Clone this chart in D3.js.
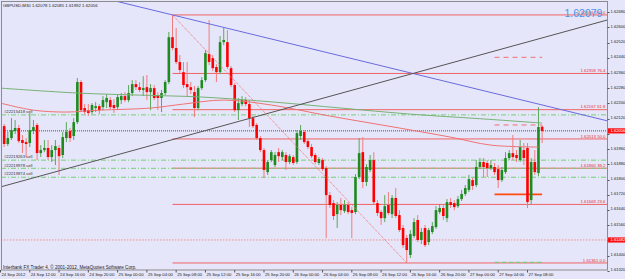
<!DOCTYPE html>
<html>

<head>
  <meta charset="utf-8">
  <title>GBPUSD,M30</title>
  <style>
    body { margin: 0; background: #e6e6fa; }
    svg { display: block; font-family: "Liberation Sans", Arial, sans-serif; }
  </style>
</head>

<body>
  <svg id="svg"></svg>

  <script src="https://d3js.org/d3.v7.min.js"></script>
  <script>
    // ---- data (GBPUSD M30, bar 0 = 24 Sep 2012 08:00) ----
    let opens = [
      1.62207, 1.62081, 1.61987, 1.62018, 1.62055, 1.62071, 1.62008, 1.61997, 1.61992, 1.62055,
      1.62087, 1.61939, 1.61955, 1.61966, 1.61918, 1.61955, 1.61966, 1.61929, 1.62018, 1.62055,
      1.62029, 1.62102, 1.62313, 1.62176, 1.62165, 1.62155, 1.62176, 1.62186, 1.62181, 1.62207,
      1.62218, 1.62192, 1.62181, 1.62218, 1.62239, 1.62218, 1.62255, 1.62302, 1.62286, 1.62271,
      1.62286, 1.62260, 1.62281, 1.62244, 1.62229, 1.62255, 1.62313, 1.62549, 1.62492, 1.62418,
      1.62365, 1.62302, 1.62286, 1.62260, 1.62176, 1.62281, 1.62323, 1.62460, 1.62439, 1.62392,
      1.62365, 1.62523, 1.62523, 1.62386, 1.62297, 1.62165, 1.62197, 1.62218, 1.62197, 1.62123,
      1.62087, 1.62018, 1.61955, 1.61839, 1.61902, 1.61876, 1.61944, 1.61918, 1.61929, 1.61892,
      1.61918, 1.61892, 1.62029, 1.62050, 1.62002, 1.61971, 1.61929, 1.61887, 1.61902, 1.61860,
      1.61718, 1.61676, 1.61618, 1.61666, 1.61634, 1.61666, 1.61639, 1.61629, 1.61813, 1.61944,
      1.61787, 1.61850, 1.61902, 1.61676, 1.61629, 1.61597, 1.61666, 1.61618, 1.61703, 1.61613,
      1.61545, 1.61492, 1.61403, 1.61503, 1.61587, 1.61482, 1.61545, 1.61471, 1.61524, 1.61550,
      1.61629, 1.61650, 1.61597, 1.61681, 1.61676, 1.61660, 1.61697, 1.61724, 1.61745, 1.61797,
      1.61771, 1.61866, 1.61892, 1.61887, 1.61860, 1.61866, 1.61855, 1.61797, 1.61839, 1.61913,
      1.61939, 1.61929, 1.61902, 1.61955, 1.61966, 1.61692, 1.61892, 1.61834, 1.62078
    ];
    let highs = [
      1.62223, 1.62092, 1.62050, 1.62123, 1.62113, 1.62087, 1.62034, 1.62018, 1.62150, 1.62113,
      1.62097, 1.61981, 1.62008, 1.62008, 1.61981, 1.62008, 1.61981, 1.62050, 1.62102, 1.62071,
      1.62123, 1.62334, 1.62323, 1.62197, 1.62197, 1.62202, 1.62207, 1.62197, 1.62239, 1.62250,
      1.62234, 1.62223, 1.62250, 1.62255, 1.62260, 1.62297, 1.62323, 1.62323, 1.62313, 1.62344,
      1.62350, 1.62302, 1.62297, 1.62260, 1.62271, 1.62323, 1.62576, 1.62666, 1.62597, 1.62455,
      1.62418, 1.62418, 1.62313, 1.62292, 1.62292, 1.62339, 1.62481, 1.62639, 1.62455, 1.62407,
      1.62555, 1.62597, 1.62586, 1.62397, 1.62307, 1.62229, 1.62239, 1.62234, 1.62218, 1.62134,
      1.62097, 1.62029, 1.61966, 1.61902, 1.61955, 1.61944, 1.61966, 1.61955, 1.61944, 1.61934,
      1.61929, 1.62060, 1.62087, 1.62060, 1.62013, 1.61987, 1.61939, 1.61918, 1.61913, 1.61871,
      1.61734, 1.61692, 1.61681, 1.61703, 1.61692, 1.61681, 1.61655, 1.61829, 1.62018, 1.62023,
      1.61881, 1.61929, 1.61944, 1.61692, 1.61639, 1.61718, 1.61734, 1.61718, 1.61755, 1.61639,
      1.61561, 1.61508, 1.61534, 1.61597, 1.61613, 1.61545, 1.61561, 1.61545, 1.61576, 1.61660,
      1.61671, 1.61671, 1.61697, 1.61703, 1.61692, 1.61713, 1.61745, 1.61771, 1.61824, 1.61808,
      1.61902, 1.61913, 1.61913, 1.61902, 1.61902, 1.61887, 1.61876, 1.61866, 1.61944, 1.61955,
      1.62034, 1.61955, 1.62008, 1.61992, 1.61992, 1.61913, 1.61955, 1.62181, 1.62085
    ];
    let lows = [
      1.62071, 1.61971, 1.61976, 1.62008, 1.62039, 1.61992, 1.61939, 1.61918, 1.61971, 1.62039,
      1.61902, 1.61918, 1.61944, 1.61902, 1.61892, 1.61876, 1.61824, 1.61913, 1.61997, 1.61997,
      1.62008, 1.62092, 1.62155, 1.62144, 1.62134, 1.62144, 1.62155, 1.62144, 1.62165, 1.62176,
      1.62171, 1.62150, 1.62165, 1.62197, 1.62207, 1.62207, 1.62239, 1.62271, 1.62260, 1.62239,
      1.62218, 1.62165, 1.62218, 1.62165, 1.62155, 1.62244, 1.62302, 1.62481, 1.62407, 1.62360,
      1.62281, 1.62234, 1.62250, 1.62129, 1.62165, 1.62271, 1.62313, 1.62402, 1.62371, 1.62313,
      1.62355, 1.62507, 1.62381, 1.62286, 1.62155, 1.62113, 1.62186, 1.62186, 1.62076, 1.62071,
      1.62008, 1.61944, 1.61808, 1.61824, 1.61892, 1.61866, 1.61892, 1.61902, 1.61850, 1.61881,
      1.61876, 1.61881, 1.62008, 1.61987, 1.61960, 1.61913, 1.61881, 1.61876, 1.61845, 1.61492,
      1.61650, 1.61587, 1.61545, 1.61613, 1.61624, 1.61618, 1.61492, 1.61618, 1.61802, 1.61755,
      1.61766, 1.61839, 1.61671, 1.61608, 1.61561, 1.61576, 1.61613, 1.61597, 1.61597, 1.61524,
      1.61440, 1.61361, 1.61387, 1.61492, 1.61471, 1.61461, 1.61445, 1.61455, 1.61513, 1.61540,
      1.61618, 1.61587, 1.61576, 1.61650, 1.61639, 1.61650, 1.61687, 1.61713, 1.61734, 1.61745,
      1.61760, 1.61855, 1.61813, 1.61813, 1.61850, 1.61824, 1.61755, 1.61787, 1.61829, 1.61902,
      1.61902, 1.61892, 1.61892, 1.61876, 1.61650, 1.61671, 1.61824, 1.61818, 1.61992
    ];
    let closes = [
      1.62081, 1.61987, 1.62018, 1.62060, 1.62071, 1.62002, 1.61992, 1.61987, 1.62060, 1.62076,
      1.61939, 1.61955, 1.61966, 1.61918, 1.61955, 1.61976, 1.61923, 1.62023, 1.62050, 1.62018,
      1.62102, 1.62313, 1.62165, 1.62155, 1.62150, 1.62192, 1.62186, 1.62165, 1.62218, 1.62229,
      1.62181, 1.62176, 1.62234, 1.62239, 1.62218, 1.62255, 1.62302, 1.62286, 1.62271, 1.62281,
      1.62260, 1.62281, 1.62229, 1.62229, 1.62255, 1.62313, 1.62549, 1.62492, 1.62418, 1.62376,
      1.62297, 1.62286, 1.62271, 1.62176, 1.62281, 1.62323, 1.62465, 1.62418, 1.62386, 1.62365,
      1.62523, 1.62534, 1.62392, 1.62297, 1.62165, 1.62202, 1.62218, 1.62197, 1.62123, 1.62081,
      1.62018, 1.61955, 1.61850, 1.61892, 1.61944, 1.61929, 1.61923, 1.61944, 1.61892, 1.61923,
      1.61887, 1.62044, 1.62055, 1.61997, 1.61971, 1.61923, 1.61892, 1.61908, 1.61855, 1.61718,
      1.61666, 1.61608, 1.61666, 1.61639, 1.61666, 1.61629, 1.61624, 1.61813, 1.61939, 1.61787,
      1.61866, 1.61902, 1.61681, 1.61624, 1.61597, 1.61660, 1.61624, 1.61703, 1.61608, 1.61534,
      1.61455, 1.61429, 1.61513, 1.61576, 1.61482, 1.61524, 1.61455, 1.61534, 1.61555, 1.61639,
      1.61650, 1.61608, 1.61681, 1.61666, 1.61655, 1.61697, 1.61724, 1.61755, 1.61802, 1.61766,
      1.61866, 1.61892, 1.61866, 1.61860, 1.61876, 1.61839, 1.61797, 1.61850, 1.61913, 1.61939,
      1.61918, 1.61913, 1.61971, 1.61913, 1.61681, 1.61892, 1.61839, 1.62076, 1.62056
    ];

    // moving averages, sampled as [bar, price]
    let maGreen = [[0, 1.62281], [21, 1.62255], [38, 1.62244], [55, 1.62234], [75, 1.62207],
      [93, 1.62176], [112, 1.62144], [131, 1.62120], [148, 1.62097]];
    let maRed = [[0, 1.62202], [9, 1.62165], [18, 1.62155], [27, 1.62165], [41, 1.62176], [50, 1.62197],
      [61, 1.62218], [74, 1.62192], [90, 1.62134], [109, 1.62071], [123, 1.62023], [134, 1.61981], [147, 1.61971]];

    // trend lines, two anchors [bar, price]
    let blueLine = [[47, 1.62666], [147, 1.62197]];
    let blackLine = [[0, 1.61761], [148, 1.62545]];

    // fibonacci retracement
    let fibHigh = [47, 1.62666];
    let fibLow = [111, 1.61361];
    let fibLevels = [0, 23.6, 38.2, 50, 61.8, 76.4, 100];

    // open orders
    let orderTickets = ["#22215418", "#22219263", "#22219978", "#22219874"];
    let orderPrices = [1.62140, 1.61902, 1.61859, 1.61812];

    // short level segments at the right
    let levelPrices = [1.62443, 1.62087, 1.61722, 1.61364];
    let levelBars = [135, 148];

    let bidPrice = 1.62056;
    let markPrice = 1.61482;
    let askText = "1.62079";
    let titleText = "GBPUSD,M30  1.62078 1.62085 1.61992 1.62056";
    let footerText = "Interbank FX Trader 4, \u00a9 2001-2012, MetaQuotes Software Corp.";

    let priceTicks = [1.62680, 1.62600, 1.62520, 1.62440, 1.62360, 1.62280, 1.62200, 1.62120, 1.62040,
      1.61960, 1.61880, 1.61800, 1.61720, 1.61640, 1.61560, 1.61480, 1.61400, 1.61320];
    let timeTickBars = [0, 8, 16, 24, 32, 40, 48, 56, 64, 72, 80, 88, 96, 104, 112, 120, 128, 136, 144];
    let timeLabels = ["24 Sep 2012", "24 Sep 12:00", "24 Sep 16:00", "24 Sep 20:00", "25 Sep 00:00",
      "25 Sep 04:00", "25 Sep 08:00", "25 Sep 12:00", "25 Sep 16:00", "25 Sep 20:00", "26 Sep 00:00",
      "26 Sep 04:00", "26 Sep 08:00", "26 Sep 12:00", "26 Sep 16:00", "26 Sep 20:00", "27 Sep 00:00",
      "27 Sep 04:00", "27 Sep 08:00"];

    // ---- drawing ----
    let width = 625, height = 279;
    let plot = { left: 1, top: 2, right: 607, bottom: 270 };

    let svg = d3.select("#svg").attr("width", width).attr("height", height);
    svg.append("rect").attr("width", width).attr("height", height).attr("fill", "#e6e6fa");

    let x = d3.scaleLinear().domain([0, 166]).range([0.5, 608]);
    let y = d3.scaleLinear().domain([1.61324, 1.62734]).range([plot.bottom, plot.top]);

    svg.append("clipPath").attr("id", "clip")
      .append("rect")
      .attr("x", plot.left).attr("y", plot.top)
      .attr("width", plot.right - plot.left).attr("height", plot.bottom - plot.top);

    let chart = svg.append("g").attr("clip-path", "url(#clip)");

    // line through two anchors, stretched over the whole plot width
    function ray(anchors) {
      let [a, b] = anchors;
      let x1 = x(a[0]), y1 = y(a[1]), x2 = x(b[0]), y2 = y(b[1]);
      let k = (y2 - y1) / (x2 - x1);
      return [[plot.left, y1 + k * (plot.left - x1)], [plot.right, y1 + k * (plot.right - x1)]];
    }

    // fibo levels
    let fibPrice = r => fibLow[1] + r / 100 * (fibHigh[1] - fibLow[1]);
    chart.selectAll("line.fib").data(fibLevels).join("line")
      .attr("class", "fib")
      .attr("x1", x(fibHigh[0])).attr("x2", plot.right)
      .attr("y1", r => y(fibPrice(r))).attr("y2", r => y(fibPrice(r)))
      .attr("stroke", "#f06464").attr("stroke-width", 1);

    // order lines
    chart.selectAll("line.order").data(orderPrices).join("line")
      .attr("class", "order")
      .attr("x1", plot.left).attr("x2", plot.right)
      .attr("y1", d => y(d)).attr("y2", d => y(d))
      .attr("stroke", "#74d074").attr("stroke-width", 1)
      .attr("stroke-dasharray", "5,2,1,2");

    // bid line and the other dotted line
    chart.append("line")
      .attr("x1", plot.left).attr("x2", plot.right)
      .attr("y1", y(bidPrice)).attr("y2", y(bidPrice))
      .attr("stroke", "#7a3c3c").attr("stroke-dasharray", "1,1");
    chart.append("line")
      .attr("x1", plot.left).attr("x2", plot.right)
      .attr("y1", y(markPrice)).attr("y2", y(markPrice))
      .attr("stroke", "#f08c8c").attr("stroke-dasharray", "1.5,1.5");

    // short level segments
    let levelStyle = [
      { stroke: "#f07070", dash: "5,4", w: 1 },
      { stroke: "#f07070", dash: "5,4", w: 1 },
      { stroke: "#ff4a10", dash: null, w: 1.6 },
      { stroke: "#7cc87c", dash: "5,2", w: 1.2 }
    ];
    chart.selectAll("line.level").data(levelPrices).join("line")
      .attr("class", "level")
      .attr("x1", x(levelBars[0])).attr("x2", x(levelBars[1]))
      .attr("y1", d => y(d)).attr("y2", d => y(d))
      .attr("stroke", (d, i) => levelStyle[i].stroke)
      .attr("stroke-width", (d, i) => levelStyle[i].w)
      .attr("stroke-dasharray", (d, i) => levelStyle[i].dash);

    // candles
    let bars = d3.range(opens.length);
    let isUp = i => closes[i] >= opens[i];
    chart.selectAll("line.wick").data(bars).join("line")
      .attr("class", "wick")
      .attr("x1", i => x(i)).attr("x2", i => x(i))
      .attr("y1", i => y(highs[i])).attr("y2", i => y(lows[i]))
      .attr("stroke", i => isUp(i) ? "#5aa85a" : "#f27c7c")
      .attr("stroke-width", 1);
    chart.selectAll("rect.body").data(bars).join("rect")
      .attr("class", "body")
      .attr("x", i => x(i) - 1.3)
      .attr("width", 2.6)
      .attr("y", i => y(Math.max(opens[i], closes[i])))
      .attr("height", i => Math.max(1, Math.abs(y(opens[i]) - y(closes[i]))))
      .attr("fill", i => isUp(i) ? "#1f8a1f" : "#ff0000");

    // moving averages
    let maLine = d3.line().x(d => x(d[0])).y(d => y(d[1])).curve(d3.curveCatmullRom);
    chart.append("path").attr("d", maLine(maGreen))
      .attr("fill", "none").attr("stroke", "#76b276").attr("stroke-width", 1);
    chart.append("path").attr("d", maLine(maRed))
      .attr("fill", "none").attr("stroke", "#f07272").attr("stroke-width", 1);

    // trend lines
    let seg = d3.line();
    chart.append("path").attr("d", seg(ray(blueLine)))
      .attr("fill", "none").attr("stroke", "#6a6ae0").attr("stroke-width", 1);
    chart.append("path").attr("d", seg(ray(blackLine)))
      .attr("fill", "none").attr("stroke", "#555555").attr("stroke-width", 1);

    // fibo base line
    chart.append("line")
      .attr("x1", x(fibHigh[0])).attr("y1", y(fibHigh[1]))
      .attr("x2", x(fibLow[0])).attr("y2", y(fibLow[1]))
      .attr("stroke", "#f07070").attr("stroke-dasharray", "1,1");

    // fibo labels
    chart.selectAll("text.fib").data(fibLevels).join("text")
      .attr("class", "fib")
      .attr("x", plot.right - 1.5)
      .attr("y", r => y(fibPrice(r)) - 1.3)
      .attr("text-anchor", "end")
      .attr("font-size", 4.3)
      .attr("fill", "#e83030")
      .text(r => `${fibPrice(r).toFixed(5)} ${r.toFixed(1)}`);

    // order labels
    chart.selectAll("text.order").data(orderPrices).join("text")
      .attr("class", "order")
      .attr("x", 4)
      .attr("y", d => y(d) - 1.8)
      .attr("font-size", 4.2)
      .attr("fill", "#333")
      .text((d, i) => `${orderTickets[i]} sell`);

    // frame
    svg.append("rect")
      .attr("x", plot.left + 0.5).attr("y", plot.top - 0.5)
      .attr("width", plot.right - plot.left).attr("height", plot.bottom - plot.top + 0.5)
      .attr("fill", "none").attr("stroke", "#8c8c8c");

    // price axis; labels covered by a price tag are not drawn (as in the terminal)
    let tags = [bidPrice, markPrice];
    let freeTick = d => tags.every(p => Math.abs(y(p) - y(d)) > 4);
    let yAxis = svg.append("g");
    yAxis.selectAll("line").data(priceTicks).join("line")
      .attr("x1", plot.right + 0.5).attr("x2", plot.right + 2.5)
      .attr("y1", d => Math.round(y(d)) + 0.5).attr("y2", d => Math.round(y(d)) + 0.5)
      .attr("stroke", "#555");
    yAxis.selectAll("text").data(priceTicks.filter(freeTick)).join("text")
      .attr("x", 610.5)
      .attr("y", d => y(d) + 0.5)
      .attr("font-size", 4.1)
      .attr("fill", "#222")
      .text(d => d.toFixed(5));

    // price tags on the axis
    tags.forEach(p => {
      yAxis.append("rect")
        .attr("x", plot.right + 1).attr("y", y(p) - 2.6)
        .attr("width", width - plot.right).attr("height", 5.2)
        .attr("fill", "#ff1010");
      yAxis.append("text")
        .attr("x", 610.5).attr("y", y(p) + 1.5)
        .attr("font-size", 4.1).attr("fill", "#fff")
        .text(p.toFixed(5));
    });

    // time axis
    let xAxis = svg.append("g");
    xAxis.selectAll("line").data(timeTickBars).join("line")
      .attr("x1", d => x(d)).attr("x2", d => x(d))
      .attr("y1", plot.bottom).attr("y2", plot.bottom + 2.5)
      .attr("stroke", "#555");
    xAxis.selectAll("text").data(timeTickBars).join("text")
      .attr("x", d => x(d) + 1)
      .attr("y", 276.3)
      .attr("font-size", 4.2)
      .attr("fill", "#222")
      .text((d, i) => timeLabels[i]);

    // texts
    svg.append("text").attr("x", 3).attr("y", 7)
      .attr("font-size", 4.3).attr("fill", "#222").text(titleText);
    svg.append("text").attr("x", 3).attr("y", 268.6)
      .attr("font-size", 4.6).attr("fill", "#222").text(footerText);
    svg.append("text").attr("x", 564.5).attr("y", 17.2)
      .attr("font-size", 10.5).attr("fill", "#4a94ee").text(askText);
  </script>
</body>

</html>
